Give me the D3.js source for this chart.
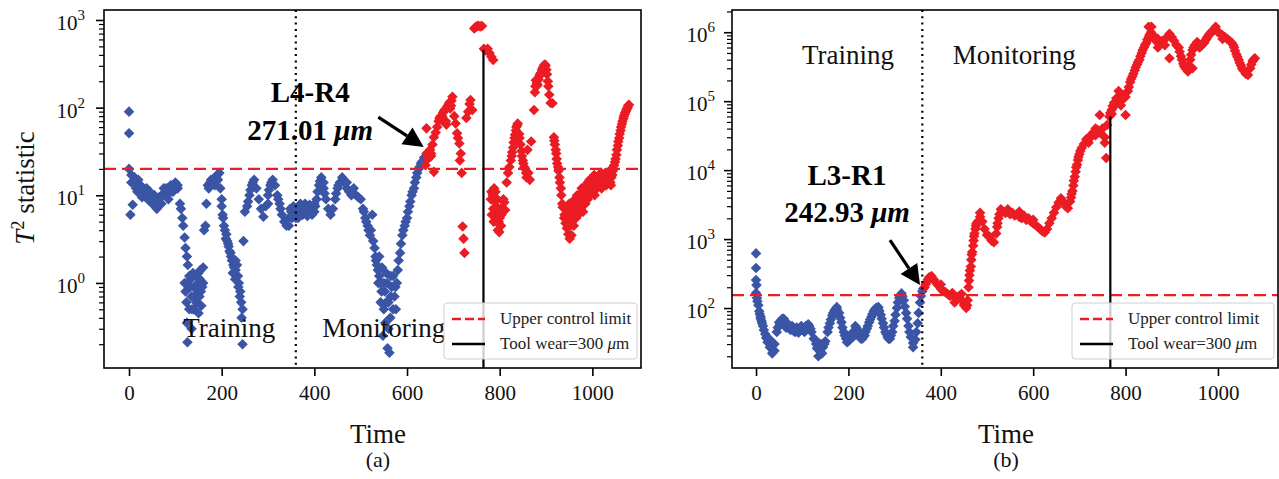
<!DOCTYPE html>
<html>
<head>
<meta charset="utf-8">
<script src="https://cdn.jsdelivr.net/npm/d3@7"></script>
<style>
  body { margin: 0; background: #fff; }
  svg { font-family: "Liberation Serif", "Times New Roman", serif; }
</style>
</head>
<body>
<svg id="chart" width="1279" height="479"></svg>
<script>
// T^2 values, sampled every 5 time steps
const STEP = 5;

// panel (a): training part, t = 0..635
const blueA = [
  20, 17, 14, 12, 13, 11, 12, 10, 11, 9,
  10, 8.5, 9, 8, 10, 12, 10, 11, 13, 11,
  14, 12, 8, 5.5, 3.3, 2, 1.2, 0.7, 0.9, 0.6,
  1.3, 0.8, 1.0, 4.5, 13, 14, 15, 13, 17, 18,
  7.5, 4.5, 3.6, 2.6, 2.0, 1.6, 1.4, 1.2, 0.8, 0.5,
  6.5, 7.5, 10, 13, 15, 12, 9, 7, 5.7, 7.5,
  10, 13, 15, 13, 10, 8, 6, 5, 4.5, 5.5,
  6.5, 6, 7, 6.5, 7, 6, 6.8, 7, 6.5, 7,
  6.5, 9, 13, 16, 12, 9, 7, 6, 7, 9,
  12, 14, 16, 14, 12, 11, 10, 12, 10, 9.5,
  9, 7, 5.5, 4.5, 3.5, 6, 2.5, 1.6, 1.2, 0.8,
  1.0, 0.6, 0.3, 0.7, 0.5, 0.9, 1.4, 2.2, 3.5, 4.5,
  5.5, 7.5, 10, 12, 16, 20, 23, 25
];
// extra scattered training points [t, value]
const blueExtraA = [
  [0, 90], [0, 51], [3, 6], [8, 7.8], [5, 14], [12, 16], [18, 11], [20, 15], [25, 13],
  [28, 9.5], [33, 11], [38, 12], [40, 9], [45, 11], [50, 8], [55, 10], [60, 7], [65, 9.5],
  [70, 8], [75, 10], [80, 12], [85, 9], [90, 11], [95, 13], [100, 12], [105, 13],
  [112, 7], [117, 4.5], [122, 2.5], [127, 1.6], [132, 0.9],
  [120, 1.0], [122, 0.8], [124, 0.6], [125, 0.35], [128, 0.9], [133, 1.1], [135, 0.3],
  [136, 0.5], [138, 1.3], [142, 0.7], [144, 0.9], [147, 0.6], [148, 0.8], [149, 1.0],
  [152, 0.7], [153, 1.1], [154, 1.4], [156, 0.55], [158, 0.9],
  [126, 0.21], [130, 0.5], [140, 0.5], [145, 1.2], [150, 0.45], [160, 1.5], [162, 4],
  [167, 8], [172, 12], [177, 15], [183, 14], [188, 16], [192, 15],
  [197, 12], [200, 9], [202, 6], [203, 5.5], [207, 4], [209, 3.2], [212, 3], [214, 2.8],
  [217, 2.3], [219, 2.2], [222, 1.8], [224, 1.3], [227, 1.5], [229, 1.1], [230, 1.8],
  [233, 1.6], [236, 0.9], [237, 1.0], [239, 0.7], [242, 0.6], [243, 0.4], [245, 0.2],
  [247, 3], [257, 8.5], [262, 11.5], [267, 14], [300, 8], [302, 11.5], [307, 14],
  [322, 9], [327, 7], [345, 4.5], [348, 7], [352, 5.5], [355, 7.5], [360, 5.5], [365, 5.5],
  [370, 8], [375, 7.5], [380, 8], [385, 5.8], [390, 7.8], [395, 6], [400, 8], [402, 7.5],
  [407, 11], [412, 14.5], [417, 14], [420, 14], [422, 10.5], [447, 10.5], [452, 13],
  [470, 14], [507, 6.5], [512, 5], [517, 4], [522, 4], [527, 3], [532, 2], [533, 1.8],
  [537, 1.4], [538, 1.0], [540, 2], [542, 1.0], [543, 0.6], [545, 1.0], [546, 1.5],
  [548, 0.25], [550, 0.5], [552, 0.8], [553, 0.35], [555, 1.3], [557, 1.0], [558, 0.18],
  [560, 0.6], [562, 0.16], [564, 0.4], [565, 1.2], [567, 0.9], [570, 1.2], [573, 0.7],
  [576, 0.5], [578, 1.0], [582, 1.8], [587, 2.8], [592, 4], [597, 5],
  [602, 6.5], [607, 8.5], [612, 11], [617, 14], [622, 18], [627, 21], [632, 24], [637, 27]
];
// monitoring part of panel (a) [t, value]
const redA = [
  [640, 22], [642, 58], [645, 26], [650, 33], [652, 28], [655, 38], [658, 18.5], [658, 46],
  [662, 52], [665, 60], [668, 70], [670, 75], [672, 79], [675, 72], [676, 80], [678, 88],
  [680, 92], [682, 95], [684, 70], [685, 64], [687, 102], [688, 105], [690, 110], [692, 115],
  [693, 98], [695, 105], [696, 120], [698, 133], [702, 80], [705, 66], [708, 51],
  [710, 45], [713, 39], [714, 25], [716, 30], [718, 18], [720, 4.4], [722, 3.2], [724, 2.2],
  [728, 76], [732, 90], [735, 110], [737, 122], [741, 94], [745, 800], [748, 830], [751, 850],
  [754, 860], [758, 845], [762, 855], [766, 470], [770, 450], [774, 470], [778, 420],
  [782, 380], [786, 350], [782, 11], [784, 9], [786, 7], [788, 12], [790, 8.5], [792, 6],
  [794, 7.3], [796, 4], [798, 5], [800, 5.5], [803, 4.5], [806, 7], [808, 9], [810, 8.3],
  [781, 9], [783, 6], [785, 10], [787, 5], [789, 7], [791, 11], [793, 5], [795, 9],
  [797, 6.5], [799, 3.8], [801, 7], [804, 6],
  [812, 6.8], [815, 14], [818, 18], [821, 21], [824, 25], [826, 28], [827, 31], [829, 35],
  [830, 40], [832, 45], [833, 49], [835, 55], [836, 60], [838, 63], [839, 66], [842, 50],
  [843, 45], [845, 38], [847, 32], [848, 28], [850, 25], [851, 23], [853, 21], [855, 20],
  [857, 18], [858, 16], [860, 33], [862, 18], [865, 15], [868, 41], [874, 94], [876, 150],
  [877, 175], [878, 205], [880, 190], [882, 180], [884, 210], [886, 230], [887, 240],
  [889, 250], [891, 270], [893, 285], [895, 290], [896, 306], [898, 310], [899, 300],
  [901, 270], [902, 240], [904, 200], [905, 175], [907, 140], [910, 113], [914, 112],
  [917, 46], [918, 42], [919, 38], [921, 33], [922, 30], [923, 26], [924, 23], [926, 21],
  [927, 19], [929, 16], [930, 14], [932, 12], [933, 10], [935, 8], [936, 7.3], [939, 5.5],
  [942, 4.8], [945, 4.2], [948, 3.6], [951, 3.2],
  [954, 5], [957, 6], [960, 7.3], [963, 6.5], [966, 8], [969, 9.2], [972, 7], [975, 10],
  [978, 11], [981, 9], [984, 12], [987, 11], [990, 14], [993, 12], [996, 14.3], [999, 13],
  [1002, 16], [1005, 13], [1008, 15], [1011, 14], [1014, 17], [1017, 15], [1020, 16],
  [1023, 14], [1026, 17], [1029, 16], [1032, 18], [1035, 15], [1038, 17], [1041, 16],
  [1044, 19], [1046, 20], [1047, 22], [1049, 24], [1050, 26], [1052, 29], [1053, 33],
  [1055, 37], [1056, 41], [1058, 45], [1059, 50], [1061, 55], [1062, 60], [1064, 65],
  [1065, 70], [1067, 75], [1068, 80], [1070, 84], [1071, 88], [1073, 92], [1074, 96],
  [1076, 100], [1077, 105], [1079, 108],
  [945, 6], [950, 8], [955, 3.5], [960, 4.5], [965, 5.5], [970, 6], [975, 7], [980, 6.5],
  [985, 8], [990, 9], [995, 10], [1000, 11], [1005, 10], [1010, 12], [1020, 12], [1030, 13],
  [1040, 13], [940, 6], [943, 7], [946, 5], [949, 6.5], [952, 4.5], [956, 8], [959, 5.5],
  [962, 9], [964, 6], [967, 10], [971, 8], [974, 8.5], [977, 12], [979, 8], [983, 10],
  [986, 13], [989, 11], [992, 10], [994, 15], [997, 12], [1001, 14], [1004, 17], [1007, 12],
  [1009, 16], [1013, 15], [1016, 13], [1019, 18], [1022, 15], [1025, 13], [1028, 18],
  [1031, 15], [1034, 17], [1037, 19], [1039, 14], [1043, 17]
];
const detectA = [[647, 30]];

// panel (b): training part, t = 0..360
const blueB = [
  165, 110, 75, 55, 42, 32, 27, 25, 30, 45,
  62, 67, 58, 52, 55, 48, 52, 45, 50, 47,
  52, 45, 50, 55, 45, 36, 30, 25, 23, 27,
  33, 45, 60, 78, 92, 103, 85, 62, 45, 36,
  33, 38, 45, 55, 48, 40, 36, 40, 50, 62,
  75, 90, 100, 103, 80, 60, 45, 38, 36, 45,
  65, 100, 140, 163, 130, 85, 55, 38, 31, 35,
  60, 120, 175
];
const blueExtraB = [
  [0, 620], [0, 380], [0, 255], [1, 215], [2, 140], [3, 125], [7, 90], [8, 82], [10, 70],
  [12, 65], [13, 60], [17, 48], [22, 37], [25, 36], [30, 35], [35, 22], [40, 24], [47, 52],
  [52, 58], [57, 70], [60, 70], [62, 55], [68, 60], [72, 50], [78, 55], [82, 46], [88, 52],
  [92, 44], [98, 55], [102, 48], [108, 55], [113, 58], [118, 50], [128, 35], [132, 26],
  [135, 20], [138, 26], [140, 30], [143, 22], [148, 30], [157, 52], [162, 68], [167, 85],
  [172, 97], [175, 95], [182, 72], [187, 52], [192, 40], [197, 32], [202, 36], [207, 42],
  [210, 38], [217, 52], [222, 44], [227, 36], [232, 38], [237, 45], [242, 55],
  [247, 68], [252, 82], [257, 95], [262, 102], [265, 95], [267, 90], [272, 70], [277, 52],
  [282, 42], [287, 36], [292, 40], [297, 55], [302, 80], [307, 120], [312, 150], [315, 150],
  [317, 148], [322, 105], [327, 70], [332, 45], [340, 27], [347, 45], [352, 85], [357, 150],
  [362, 190]
];
// monitoring part of panel (b), t = 365..1080
const redB = [
  200, 240, 280, 290, 260, 230, 210, 190, 175, 170,
  160, 150, 165, 145, 140, 150, 130, 110, 100, 200,
  400, 800, 1400, 1800, 2100, 1800, 1400, 1150, 1100, 950,
  900, 1200, 2000, 2700, 2500, 2400, 2700, 2300, 2400, 2200,
  2300, 2100, 2000, 2200, 1900, 2000, 1800, 1700, 1600, 1500,
  1400, 1300, 1250, 1400, 1700, 2000, 2400, 2900, 3400, 3900,
  3500, 3000, 2800, 3500, 5000, 8000, 12000, 17000, 21000, 24000,
  28000, 25000, 30000, 35000, 32000, 38000, 35000, 40000, 30000, 45000,
  60000, 75000, 95000, 90000, 110000, 100000, 120000, 115000, 140000, 190000,
  230000, 280000, 340000, 400000, 500000, 600000, 700000, 850000, 1000000, 900000,
  750000, 800000, 700000, 750000, 650000, 850000, 950000, 850000, 750000, 650000,
  600000, 450000, 350000, 300000, 270000, 400000, 550000, 650000, 720000, 600000,
  650000, 700000, 800000, 900000, 1000000, 1050000, 1100000, 1000000, 950000, 900000,
  850000, 800000, 750000, 700000, 600000, 480000, 400000, 330000, 280000, 250000,
  240000, 300000, 380000, 420000
];
const redExtraB = [
  [367, 220], [372, 260], [400, 220], [430, 120], [445, 160], [457, 110], [458, 130],
  [461, 250], [462, 300], [463, 350], [466, 500], [467, 600], [468, 650], [471, 950],
  [472, 1100], [473, 1200], [476, 1550], [477, 1650], [478, 1700], [485, 2400],
  [522, 1500], [523, 1700], [527, 2300], [570, 2500], [600, 1900], [682, 4000],
  [683, 4500], [687, 6000], [688, 7000], [692, 9500], [693, 11000], [697, 14000],
  [698, 15500], [702, 19000], [720, 30000], [735, 40000], [744, 63000], [755, 25000],
  [758, 15000], [767, 68000], [770, 65000], [772, 85000], [780, 110000], [785, 140000],
  [790, 87000], [800, 63000], [807, 160000], [812, 210000], [817, 250000], [822, 310000],
  [827, 370000], [832, 450000], [837, 550000], [842, 650000], [847, 780000], [850, 1200000],
  [852, 920000], [856, 1200000], [870, 600000], [895, 420000], [917, 520000], [922, 400000],
  [927, 320000], [932, 290000], [937, 330000], [942, 470000], [945, 300000], [947, 600000],
  [957, 660000], [962, 620000], [972, 750000], [977, 850000], [982, 950000], [987, 1020000],
  [995, 1200000], [1010, 800000], [1033, 650000], [1037, 540000], [1042, 440000],
  [1047, 360000], [1052, 300000], [1072, 340000], [1077, 400000]
];

const xTicks = [0, 200, 400, 600, 800, 1000];
const boundary = [360, 360];
const ucl = [20, 154];
const wearTime = [765, 767];
const wearTop = [454, 60000];

const BLUE = '#3a55a5';
const RED = '#ec1c24';

const svg = d3.select('#chart');

function drawPanel(p) {
  const g = svg.append('g');
  const x = d3.scaleLinear().domain(p.xDomain).range([p.left, p.right]);
  const y = d3.scaleLog().domain(p.yDomain).range([p.bottom, p.top]);

  g.append('clipPath').attr('id', p.id + '-clip')
    .append('rect')
    .attr('x', p.left).attr('y', p.top)
    .attr('width', p.right - p.left).attr('height', p.bottom - p.top);

  const diamond = d3.symbol().type(d3.symbolSquare).size(56);
  const big = d3.symbol().type(d3.symbolSquare).size(115);
  const pts = g.append('g').attr('clip-path', `url(#${p.id}-clip)`);
  const put = (data, color, sym) => pts.append('g').selectAll('path')
    .data(data).join('path')
    .attr('d', sym)
    .attr('transform', d => `translate(${x(d[0])},${y(d[1])}) rotate(45)`)
    .attr('fill', color);
  put(p.blue, BLUE, diamond);
  put(p.red, RED, diamond);
  put(p.detect, RED, big);

  // training / monitoring boundary
  g.append('line')
    .attr('x1', x(p.boundary)).attr('x2', x(p.boundary))
    .attr('y1', p.top).attr('y2', p.bottom)
    .attr('stroke', '#000').attr('stroke-width', 2.2)
    .attr('stroke-dasharray', '2,4.3');

  // upper control limit
  g.append('line')
    .attr('x1', p.left).attr('x2', p.right)
    .attr('y1', y(p.ucl)).attr('y2', y(p.ucl))
    .attr('stroke', RED).attr('stroke-width', 2.4)
    .attr('stroke-dasharray', '12,6');

  // tool wear = 300 um
  g.append('line')
    .attr('x1', x(p.wearTime)).attr('x2', x(p.wearTime))
    .attr('y1', p.bottom).attr('y2', y(p.wearTop))
    .attr('stroke', '#000').attr('stroke-width', 2.2);

  // x axis
  const xa = g.append('g')
    .attr('transform', `translate(0,${p.bottom})`)
    .call(d3.axisBottom(x).tickValues(xTicks).tickFormat(d3.format('d')).tickSize(8).tickPadding(9));
  xa.select('.domain').remove();
  xa.selectAll('line').attr('stroke-width', 1.6);
  xa.selectAll('text').attr('font-family', '"Liberation Serif", serif')
    .attr('font-size', 21).attr('fill', '#111');

  // y axis: major and minor log ticks
  const minors = y.ticks().filter(v => !p.yMajors.includes(v));
  const ya = g.append('g').attr('transform', `translate(${p.left},0)`)
    .call(d3.axisLeft(y).tickValues(p.yMajors).tickSize(8).tickFormat(() => ''));
  ya.select('.domain').remove();
  ya.selectAll('line').attr('stroke-width', 1.6);
  const ym = g.append('g').attr('transform', `translate(${p.left},0)`)
    .call(d3.axisLeft(y).tickValues(minors).tickSize(5).tickFormat(() => ''));
  ym.select('.domain').remove();
  ym.selectAll('line').attr('stroke-width', 1.2);

  const lab = g.append('g').selectAll('text')
    .data(p.yMajors).join('text')
    .attr('x', p.left - p.labelGap)
    .attr('y', d => y(d) + 10)
    .attr('text-anchor', 'end')
    .attr('font-size', 21).attr('fill', '#111');
  lab.append('tspan').text('10');
  lab.append('tspan').attr('dy', -10).attr('font-size', 15)
    .text(d => Math.round(Math.log10(d)));

  // frame
  g.append('rect')
    .attr('x', p.left).attr('y', p.top)
    .attr('width', p.right - p.left).attr('height', p.bottom - p.top)
    .attr('fill', 'none').attr('stroke', '#000').attr('stroke-width', 1.6);

  // phase labels
  p.phases.forEach(ph => {
    g.append('text').attr('x', x(ph.at[0])).attr('y', y(ph.at[1]))
      .attr('font-size', 27).attr('fill', '#111').text(ph.text);
  });

  // annotation with arrow
  const a = p.note;
  const ax = x(a.at[0]), ay = y(a.at[1]);
  g.append('text').attr('x', ax).attr('y', ay).attr('text-anchor', 'middle')
    .attr('font-size', 29).attr('font-weight', 'bold').text(a.line1);
  const t2 = g.append('text').attr('x', ax).attr('y', ay + a.gap)
    .attr('text-anchor', 'middle').attr('font-size', 29).attr('font-weight', 'bold');
  t2.append('tspan').text(a.line2 + ' ');
  t2.append('tspan').attr('font-style', 'italic').text('\u03bcm');

  const x1 = x(a.from[0]), y1 = y(a.from[1]), x2 = x(a.to[0]), y2 = y(a.to[1]);
  const ang = Math.atan2(y2 - y1, x2 - x1);
  const hl = 20, hw = 10;
  const bx = x2 - hl * Math.cos(ang), by = y2 - hl * Math.sin(ang);
  g.append('line').attr('x1', x1).attr('y1', y1).attr('x2', bx).attr('y2', by)
    .attr('stroke', '#000').attr('stroke-width', 3.2);
  g.append('path')
    .attr('d', `M${x2},${y2}L${bx + hw * Math.sin(ang)},${by - hw * Math.cos(ang)}` +
      `L${bx - hw * Math.sin(ang)},${by + hw * Math.cos(ang)}Z`)
    .attr('fill', '#000');

  // legend
  const lx = p.right - p.legendW - 4, ly = p.bottom - 65;
  const lg = g.append('g');
  lg.append('rect').attr('x', lx).attr('y', ly).attr('width', p.legendW).attr('height', 56)
    .attr('rx', 3).attr('fill', '#fff').attr('fill-opacity', 0.8)
    .attr('stroke', '#cfcfcf').attr('stroke-width', 1);
  lg.append('line').attr('x1', lx + 8).attr('x2', lx + 41).attr('y1', ly + 16).attr('y2', ly + 16)
    .attr('stroke', RED).attr('stroke-width', 2.4).attr('stroke-dasharray', '9,4');
  lg.append('line').attr('x1', lx + 8).attr('x2', lx + 41).attr('y1', ly + 41).attr('y2', ly + 41)
    .attr('stroke', '#000').attr('stroke-width', 2.4);
  lg.append('text').attr('x', lx + 56).attr('y', ly + 21).attr('font-size', 17)
    .attr('fill', '#222').text('Upper control limit');
  const lt = lg.append('text').attr('x', lx + 56).attr('y', ly + 46).attr('font-size', 17)
    .attr('fill', '#222');
  lt.append('tspan').text('Tool wear=300 ');
  lt.append('tspan').attr('font-style', 'italic').text('\u03bc');
  lt.append('tspan').text('m');

  // axis titles
  g.append('text').attr('x', p.titleX).attr('y', 443).attr('text-anchor', 'middle')
    .attr('font-size', 27).attr('fill', '#111').text('Time');
  g.append('text').attr('x', p.titleX).attr('y', 467).attr('text-anchor', 'middle')
    .attr('font-size', 22).attr('fill', '#111').text(p.tag);
}

drawPanel({
  id: 'a', left: 104, right: 641, top: 10, bottom: 368,
  xDomain: [-54, 1105], yDomain: [0.107, 1300], yMajors: [1, 10, 100, 1000], labelGap: 19,
  blue: blueA.map((v, i) => [i * STEP, v]).concat(blueExtraA),
  red: redA, detect: detectA,
  boundary: boundary[0], ucl: ucl[0], wearTime: wearTime[0], wearTop: wearTop[0],
  phases: [{ text: 'Training', at: [117, 0.242] }, { text: 'Monitoring', at: [417, 0.242] }],
  note: { line1: 'L4-R4', line2: '271.01', at: [391, 117], gap: 38, from: [538, 78], to: [636, 35.6] },
  legendW: 193, titleX: 378, tag: '(a)'
});

drawPanel({
  id: 'b', left: 732, right: 1278, top: 10, bottom: 368,
  xDomain: [-52, 1130], yDomain: [13.5, 2.1e6], yMajors: [100, 1e3, 1e4, 1e5, 1e6], labelGap: 17,
  blue: blueB.map((v, i) => [i * STEP, v]).concat(blueExtraB),
  red: redB.map((v, i) => [365 + i * STEP, v]).concat(redExtraB), detect: [],
  boundary: boundary[1], ucl: ucl[1], wearTime: wearTime[1], wearTop: wearTop[1],
  phases: [{ text: 'Training', at: [99.5, 3.5e5] }, { text: 'Monitoring', at: [426, 3.5e5] }],
  note: { line1: 'L3-R1', line2: '242.93', at: [197, 6070], gap: 37, from: [290, 968], to: [355, 215] },
  legendW: 202, titleX: 1006, tag: '(b)'
});

// y axis title of panel (a)
const yt = svg.append('text')
  .attr('transform', 'translate(34,188) rotate(-90)')
  .attr('text-anchor', 'middle').attr('font-size', 27).attr('fill', '#111');
yt.append('tspan').attr('font-style', 'italic').text('T');
yt.append('tspan').attr('dy', -10).attr('font-size', 18).text('2');
yt.append('tspan').attr('dy', 10).text(' statistic');
</script>
</body>
</html>
